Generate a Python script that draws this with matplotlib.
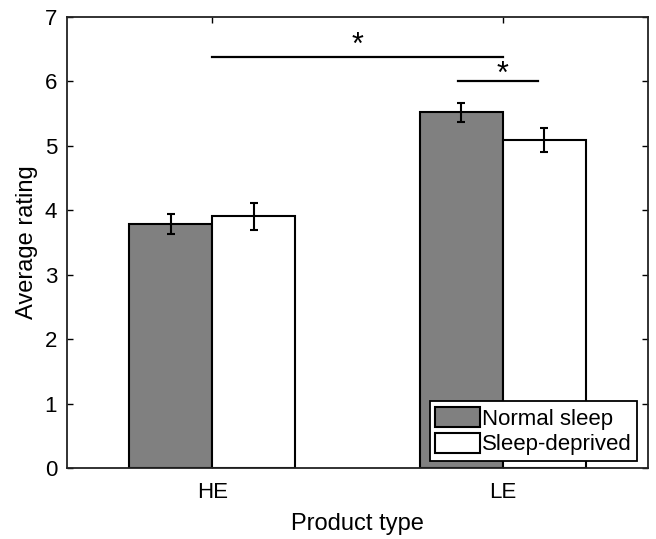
import matplotlib
matplotlib.use("Agg")
import matplotlib.pyplot as plt
import numpy as np

plt.rcParams['font.family'] = ['Liberation Sans', 'DejaVu Sans']

categories = ["HE", "LE"]
series_names = ["Normal sleep", "Sleep-deprived"]
normal_vals = [3.79, 5.52]
normal_err = [0.16, 0.15]
deprived_vals = [3.91, 5.09]
deprived_err = [0.21, 0.19]
sig_asterisk = "*"

fig = plt.figure(figsize=(6.56, 5.39), dpi=100)
ax = fig.add_axes([0.102, 0.1317, 0.886, 0.8368])

x = np.arange(1, len(categories) + 1)
w = 0.286
b1 = ax.bar(x - w / 2, normal_vals, w, color="#808080", edgecolor="black",
            linewidth=1.5, label=series_names[0], zorder=2)
b2 = ax.bar(x + w / 2, deprived_vals, w, color="white", edgecolor="black",
            linewidth=1.5, label=series_names[1], zorder=2)
ax.errorbar(x - w / 2, normal_vals, yerr=normal_err, fmt="none", ecolor="black",
            elinewidth=1.5, capsize=3, capthick=1.5, zorder=3)
ax.errorbar(x + w / 2, deprived_vals, yerr=deprived_err, fmt="none", ecolor="black",
            elinewidth=1.5, capsize=3, capthick=1.5, zorder=3)

# significance markers
ax.plot([1.0, 2.0], [6.38, 6.38], color="black", lw=1.6, zorder=3)
ax.text(1.5, 6.43, sig_asterisk, ha="center", va="baseline", fontsize=22)
ax.plot([1.846, 2.121], [6.01, 6.01], color="black", lw=1.6, zorder=3)
ax.text(2.0, 5.97, sig_asterisk, ha="center", va="baseline", fontsize=22)

ax.set_xlim(0.5, 2.5)
ax.set_ylim(0, 7)
ax.set_xticks(x)
ax.set_xticklabels(categories)
ax.set_yticks(range(0, 8))
ax.tick_params(direction="in", length=4.3, width=1.0, labelsize=16,
               top=True, right=True, colors="black")
ax.tick_params(axis="x", pad=10)
ax.tick_params(axis="y", pad=7)
for s in ax.spines.values():
    s.set_linewidth(1.3)
    s.set_color("#222222")

ax.set_xlabel("Product type", fontsize=17, labelpad=7)
ax.set_ylabel("Average rating", fontsize=17, labelpad=5)

leg = ax.legend(loc="lower right", bbox_to_anchor=(0.981, 0.0155), borderaxespad=0,
                fontsize=16, fancybox=False, framealpha=1, edgecolor="black",
                handlelength=2.0, handleheight=1.0, handletextpad=0.1,
                labelspacing=0.15, borderpad=0.25)
leg.get_frame().set_linewidth(1.3)

fig.savefig("out.png", dpi=100)
